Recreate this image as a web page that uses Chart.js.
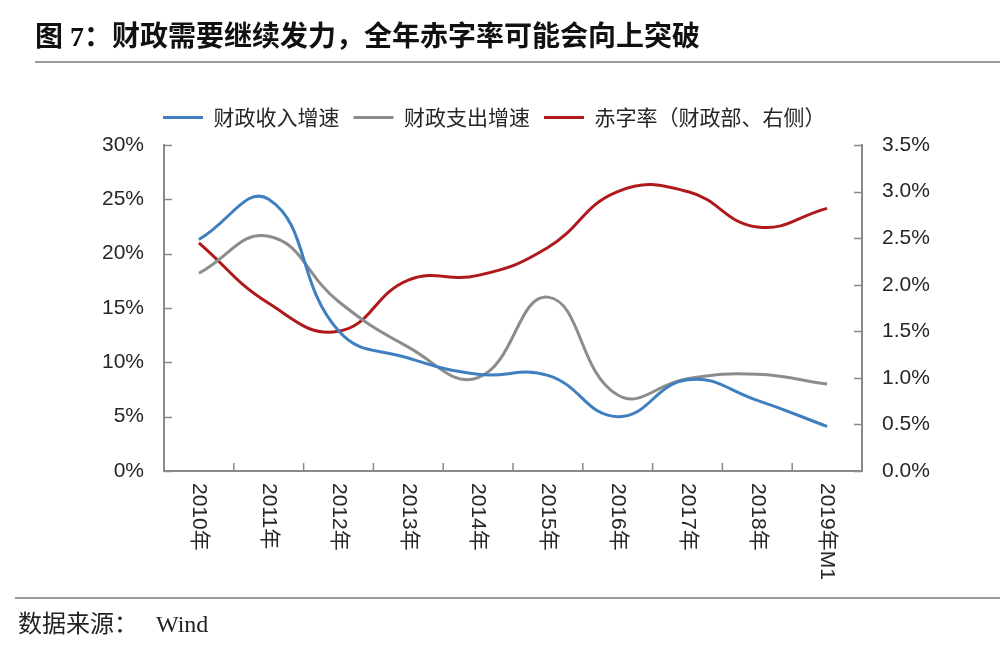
<!DOCTYPE html>
<html>
<head>
<meta charset="utf-8">
<script src="https://cdn.jsdelivr.net/npm/chart.js@4.4.0/dist/chart.umd.min.js"></script>
<style>
  body { margin: 0; background: #fff; }
  #wrap { position: relative; width: 1000px; height: 654px; overflow: hidden; }
  #chart { position: absolute; left: 0; top: 0; }
  #title { position: absolute; left: 35px; top: 14px; font: bold 28px "Liberation Serif", "Noto Sans CJK SC"; color: #111; white-space: nowrap; }
  .rule { position: absolute; right: 0; height: 0; border-top: 2px solid #9a9a9a; }
  #source { position: absolute; left: 18px; top: 604px; font: 24px "Liberation Serif", "Noto Sans CJK SC"; color: #222; }
  #source span { margin-left: 18px; }
</style>
</head>
<body>
<div id="wrap">
  <canvas id="chart" width="1000" height="654"></canvas>
  <div id="title">图 7：财政需要继续发力，全年赤字率可能会向上突破</div>
  <div class="rule" style="top:61px;left:35px"></div>
  <div class="rule" style="top:597px;left:15px"></div>
  <div id="source">数据来源：<span>Wind</span></div>
</div>
<script>
const years = ['2010年', '2011年', '2012年', '2013年', '2014年', '2015年', '2016年', '2017年', '2018年', '2019年M1'];
const revenueGrowth = [21.3, 25.0, 12.9, 10.4, 8.9, 8.8, 5.0, 8.4, 6.5, 4.1];
const spendingGrowth = [18.2, 21.6, 15.6, 11.4, 8.6, 16.0, 7.0, 8.5, 8.9, 8.0];
const deficitRate = [2.45, 1.8, 1.5, 2.05, 2.1, 2.4, 3.0, 3.0, 2.62, 2.82];
const leftTicks = [0, 5, 10, 15, 20, 25, 30];
const rightTicks = [0, 0.5, 1.0, 1.5, 2.0, 2.5, 3.0, 3.5];

const axisColor = '#8a8a8a';
const textColor = '#262626';
const tickFont = { family: '"Liberation Sans", "Noto Sans CJK SC"', size: 21 };

// a bit more room under the legend, and the legend starts above the left axis
const legendPlace = {
  id: 'legendPlace',
  beforeInit(chart) {
    const fit = chart.legend.fit;
    chart.legend.fit = function () {
      fit.call(this);
      this.height += 7;
    };
  },
  afterLayout(chart) {
    chart.legend.left = 149;
  }
};

// inward tick marks + vertical category labels (reading top to bottom)
const axisExtras = {
  id: 'axisExtras',
  afterDraw(chart) {
    const { ctx, chartArea: area, scales } = chart;
    const x = scales.x;
    ctx.save();
    ctx.strokeStyle = axisColor;
    ctx.lineWidth = 1.5;
    ctx.beginPath();
    scales.y.ticks.forEach(t => {
      const py = Math.round(scales.y.getPixelForValue(t.value)) + 0.5;
      ctx.moveTo(area.left, py);
      ctx.lineTo(area.left + 8, py);
    });
    scales.y1.ticks.forEach(t => {
      const py = Math.round(scales.y1.getPixelForValue(t.value)) + 0.5;
      ctx.moveTo(area.right, py);
      ctx.lineTo(area.right - 8, py);
    });
    for (let i = 1; i < years.length; i++) {
      const px = (x.getPixelForTick(i - 1) + x.getPixelForTick(i)) / 2;
      ctx.moveTo(px, area.bottom);
      ctx.lineTo(px, area.bottom - 8);
    }
    ctx.stroke();

    ctx.fillStyle = textColor;
    ctx.font = tickFont.size + 'px ' + tickFont.family;
    ctx.textAlign = 'left';
    ctx.textBaseline = 'middle';
    years.forEach((label, i) => {
      ctx.save();
      ctx.translate(x.getPixelForTick(i), area.bottom + 12);
      ctx.rotate(Math.PI / 2);
      ctx.fillText(label, 0, 0);
      ctx.restore();
    });
    ctx.restore();
  }
};

function lineSet(label, data, color, axis) {
  return {
    label: label,
    data: data,
    yAxisID: axis,
    borderColor: color,
    backgroundColor: color,
    borderWidth: 3,
    pointRadius: 0,
    tension: 0.45,
    fill: false
  };
}

new Chart(document.getElementById('chart'), {
  type: 'line',
  data: {
    labels: years,
    datasets: [
      lineSet('财政收入增速', revenueGrowth, '#3f7fc0', 'y'),
      lineSet('财政支出增速', spendingGrowth, '#8c8c8c', 'y'),
      lineSet('赤字率（财政部、右侧）', deficitRate, '#b0191c', 'y1')
    ]
  },
  options: {
    responsive: false,
    animation: false,
    layout: { padding: { left: 80, right: 0, top: 93, bottom: 63 } },
    plugins: {
      tooltip: { enabled: false },
      legend: {
        position: 'top',
        align: 'start',
        labels: {
          usePointStyle: true,
          pointStyle: 'line',
          pointStyleWidth: 40,
          boxHeight: 21,
          padding: 14,
          color: textColor,
          font: { family: '"Noto Sans CJK SC", "Liberation Sans"', size: 21 }
        }
      }
    },
    scales: {
      x: {
        offset: true,
        grid: { display: false },
        border: { display: true, color: axisColor, width: 2 },
        ticks: { display: false },
        afterFit: s => { s.height = 120; }
      },
      y: {
        position: 'left',
        min: 0,
        max: 30,
        afterBuildTicks: s => { s.ticks = leftTicks.map(v => ({ value: v })); },
        afterFit: s => { s.width = 84; },
        grid: { display: false, drawTicks: false },
        border: { display: true, color: axisColor, width: 2 },
        ticks: {
          padding: 20,
          color: textColor,
          font: tickFont,
          callback: v => v + '%'
        }
      },
      y1: {
        position: 'right',
        min: 0,
        max: 3.5,
        afterBuildTicks: s => { s.ticks = rightTicks.map(v => ({ value: v })); },
        afterFit: s => { s.width = 138; },
        grid: { display: false, drawTicks: false },
        border: { display: true, color: axisColor, width: 2 },
        ticks: {
          padding: 20,
          color: textColor,
          font: tickFont,
          callback: v => v.toFixed(1) + '%'
        }
      }
    }
  },
  plugins: [legendPlace, axisExtras]
});
</script>
</body>
</html>
